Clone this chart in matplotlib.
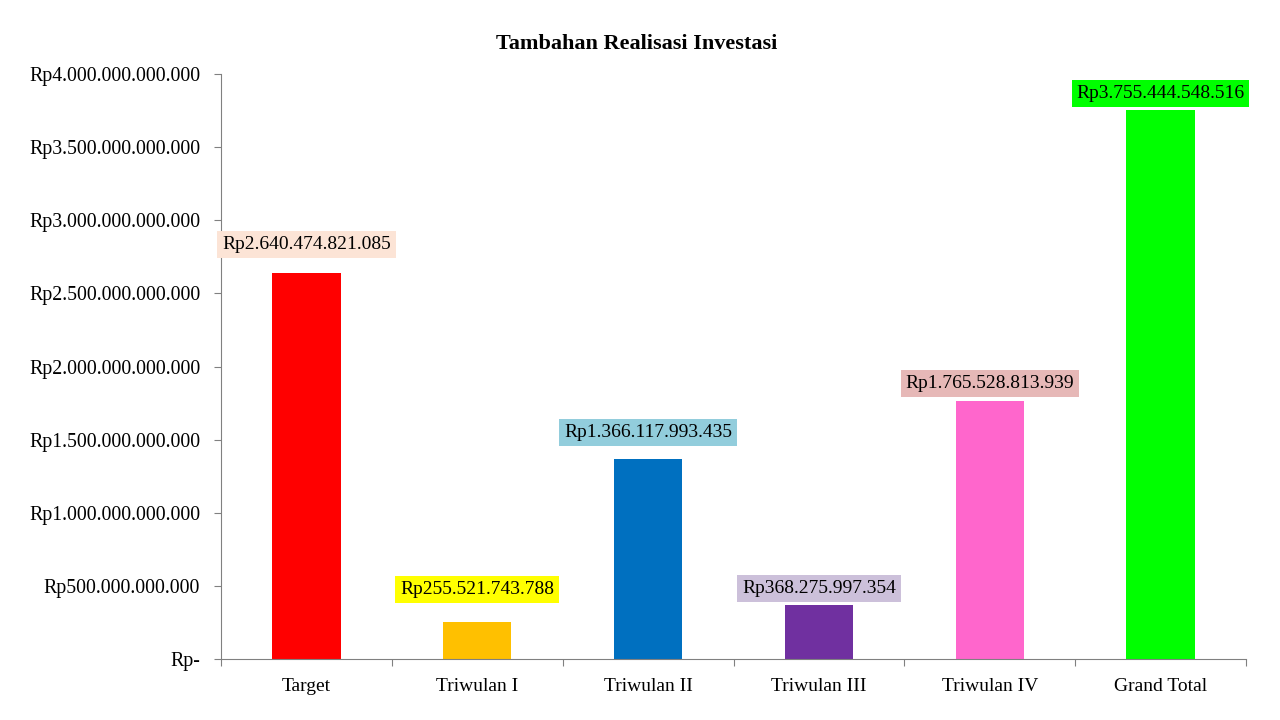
import matplotlib
matplotlib.use("Agg")
import matplotlib.pyplot as plt
from matplotlib.ticker import FuncFormatter, MultipleLocator
import numpy as np

categories = ['Target', 'Triwulan I', 'Triwulan II', 'Triwulan III', 'Triwulan IV', 'Grand Total']
values = [2640474821085, 255521743788, 1366117993435, 368275997354, 1765528813939, 3755444548516]
bar_colors = ['#FF0000', '#FFC000', '#0070C0', '#7030A0', '#FF66CC', '#00FF00']
label_bg = ['#FCE4D6', '#FFFF00', '#92CDDC', '#CCC0DA', '#E6B8B7', '#00FF00']
label_offsets = [28, 32, 27, 17, 17, 16]  # px above bar top

plt.rcParams['font.family'] = ['Liberation Serif', 'DejaVu Serif']


def rupiah(v, pos=None):
    if v == 0:
        return 'Rp-'
    return 'Rp' + f"{int(round(v)):,}".replace(',', '.')


fig = plt.figure(figsize=(12.8, 7.2), dpi=100)
ax = fig.add_axes([0.1727, 0.0847, 0.8007, 0.8125])

x = np.arange(len(categories))
ax.bar(x, values, width=0.4, color=bar_colors, zorder=2)

ax.set_xlim(-0.5, len(categories) - 0.5)
ax.set_ylim(0, 4e12)
ax.yaxis.set_major_locator(MultipleLocator(5e11))
ax.yaxis.set_major_formatter(FuncFormatter(rupiah))

ax.set_xticks(np.arange(-0.5, len(categories), 1.0))
ax.set_xticklabels([])
ax.set_xticks(x, minor=True)
ax.set_xticklabels(categories, minor=True)
ax.tick_params(axis='x', which='minor', length=0, pad=14, labelsize=14)
ax.tick_params(axis='x', which='major', length=5, color='#808080')
ax.tick_params(axis='y', length=5, color='#808080', labelsize=14.3, pad=10)

for side in ['top', 'right']:
    ax.spines[side].set_visible(False)
ax.spines['left'].set_color('#808080')
ax.spines['bottom'].set_color('#808080')

for i, v in enumerate(values):
    ax.annotate(rupiah(v), (x[i], v), xytext=(0, label_offsets[i] * 0.72),
                textcoords='offset points', ha='center', va='center', fontsize=14,
                bbox=dict(boxstyle='square,pad=0.25', fc=label_bg[i], ec='none'))

fig.text(0.4977, 0.939, 'Tambahan Realisasi Investasi', ha='center', va='center',
         fontsize=16, fontweight='bold')

fig.savefig('out.png', dpi=100)
